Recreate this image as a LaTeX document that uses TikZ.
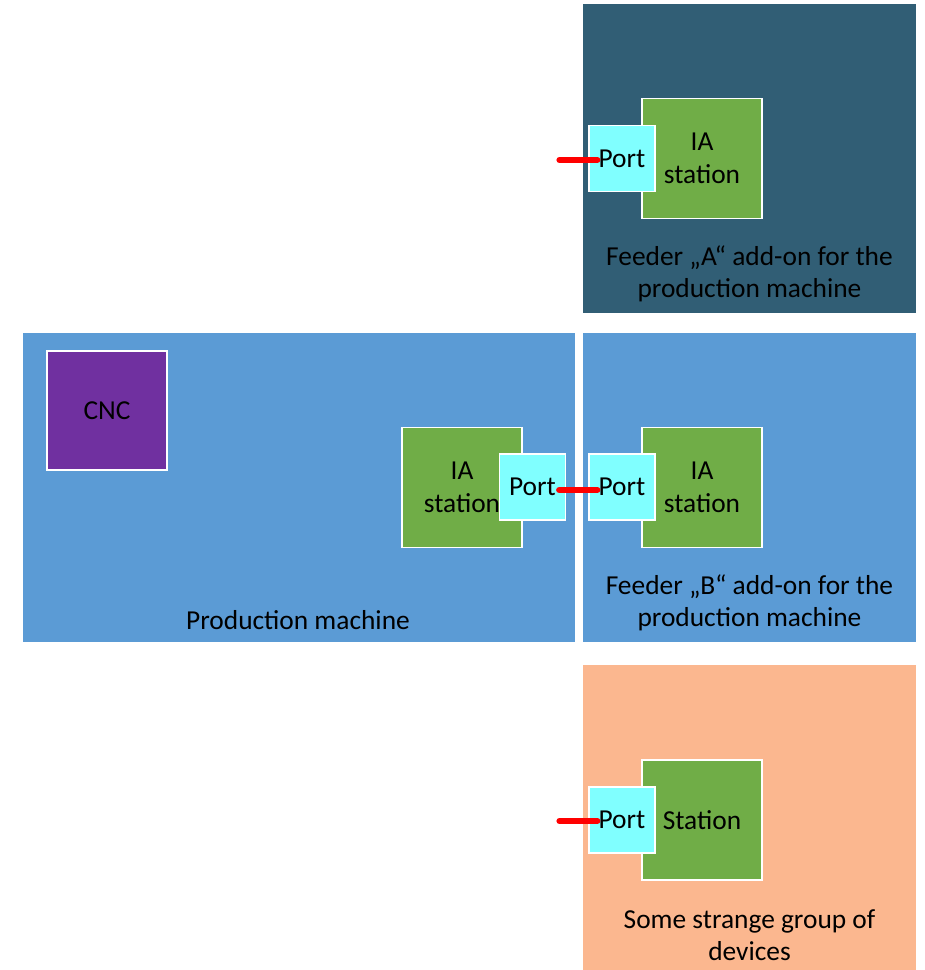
\documentclass[tikz,border=0pt]{standalone}
\usepackage{fontspec}
\setmainfont{Carlito}
\usetikzlibrary{calc}
\definecolor{feederdark}{RGB}{49,94,117}
\definecolor{machineblue}{RGB}{91,155,213}
\definecolor{strangeorange}{RGB}{251,183,143}
\definecolor{stationgreen}{RGB}{112,173,71}
\definecolor{portcyan}{RGB}{128,255,255}
\definecolor{cncpurple}{RGB}{112,48,160}
\tikzset{
  group/.style={fill=#1, draw=none, inner sep=0pt},
  grouptext/.style={align=center, inner sep=0pt},
  station/.style={fill=stationgreen, draw=white, line width=1.2pt, minimum width=120pt, minimum height=120pt, align=center, inner sep=0pt},
  port/.style={fill=portcyan, draw=white, line width=1.2pt, minimum width=66pt, minimum height=66pt, inner sep=0pt},
  cnc/.style={fill=cncpurple, draw=white, line width=1.2pt, minimum width=120pt, minimum height=119pt, inner sep=0pt},
  link/.style={draw=red, line width=6pt, line cap=round},
}

\begin{document}
\begin{tikzpicture}[x=1pt,y=-1pt,font=\fontsize{27.4}{32.5}\selectfont]
		%%%%% START %%%%%
		\useasboundingbox (0,0) rectangle (925,970);
		
		% groups
		\node[group=feederdark, minimum width=333pt, minimum height=309pt] (feedA) at (749.5,158.5) {};
		\node[group=machineblue, minimum width=552pt, minimum height=309pt] (machine) at (299,487.5) {};
		\node[group=machineblue, minimum width=333pt, minimum height=309pt] (feedB) at (749.5,487.5) {};
		\node[group=strangeorange, minimum width=333pt, minimum height=305pt] (strange) at (749.5,817.5) {};
		
		\node[grouptext] (feedAtext) at (749.5,274) {Feeder „A“ add-on for the\\production machine};
		\node[grouptext] (machinetext) at (298,620) {Production machine};
		\node[grouptext] (feedBtext) at (749.5,603) {Feeder „B“ add-on for the\\production machine};
		\node[grouptext] (strangetext) at (749.5,935) {Some strange group of\\devices};
		
		% feeder A
		\node[station] (stationA) at (702,158.5) {IA\\station};
		\node[port] (portA) at (622,158.5) {Port};
		
		% production machine
		\node[cnc] (cnc) at (107,410.5) {CNC};
		\node[station] (stationP) at (462,487.5) {IA\\station};
		\node[port] (portP) at (532.5,487) {Port};
		
		% feeder B
		\node[station] (stationB) at (702,487.5) {IA\\station};
		\node[port] (portB) at (622,487) {Port};
		
		% strange group
		\node[station] (stationS) at (702,820) {Station};
		\node[port] (portS) at (622,820) {Port};
		
		% links
		\coordinate (plugA) at ($(portA.west)+(-29,1.5)$);
		\coordinate (plugS) at ($(portS.west)+(-29,1)$);
		\draw[link] (plugA) -- ($(portA.west)+(9,1.5)$);
		\draw[link] ($(portP.east)+(-7,3)$) -- ($(portB.west)+(9,3)$);
		\draw[link] (plugS) -- ($(portS.west)+(9,1)$);
		
		%%%%% END %%%%%
\end{tikzpicture}
\end{document}
